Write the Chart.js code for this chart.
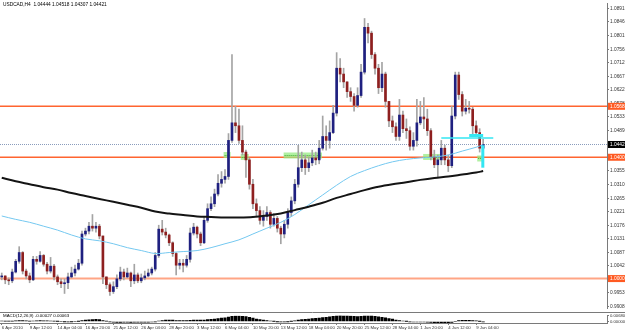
<!DOCTYPE html>
<html><head><meta charset="utf-8">
<script src="https://cdn.jsdelivr.net/npm/chart.js@4.4.0/dist/chart.umd.min.js"></script>
<style>
html,body{margin:0;padding:0;background:#fff;}
#wrap{position:relative;width:625px;height:330px;overflow:hidden;background:#fff;}
.box{position:absolute;left:0;}
</style></head><body>
<div id="wrap">
<div class="box" style="top:0;width:625px;height:312px"><canvas id="main" width="625" height="312"></canvas></div>
<div class="box" style="top:312px;width:625px;height:18px"><canvas id="sub" width="625" height="18"></canvas></div>
</div>
<script>
// ---------------- DATA ----------------
const symbolTitle = "USDCAD,H4  1.04444 1.04518 1.04307 1.04421";
const macdTitle = "MACD(12,26,9) -0.00027 0.00063";
const xTickLabels = ["6 Apr 2010","9 Apr 12:00","14 Apr 04:00","16 Apr 20:00","21 Apr 12:00","26 Apr 04:00","28 Apr 20:00","3 May 12:00","6 May 04:00","10 May 20:00","13 May 12:00","18 May 04:00","20 May 20:00","25 May 12:00","28 May 04:00","1 Jun 20:00","4 Jun 12:00","9 Jun 04:00"];
const yTickValues = [0.99080,0.99530,0.99970,1.00420,1.00870,1.01310,1.01760,1.02210,1.02650,1.03100,1.03550,1.03990,1.04440,1.04890,1.05330,1.05780,1.06220,1.06670,1.07120,1.07560,1.08010,1.08460,1.08910];
const macdTickValues = [0.0068, 0];

const firstOpen = 1.00055;
const closes = [1.00088,0.99959,0.99927,1.00216,1.0057,1.00859,1.00248,1.00088,0.99959,1.00634,
1.0057,1.00763,1.00473,1.00248,1.00409,1.00055,0.99895,0.9983,0.99863,1.00055,
1.00184,1.00313,1.00506,1.0147,1.01566,1.01727,1.01662,1.01727,1.01405,1.00055,
0.99798,0.99573,0.99734,0.99991,1.00216,1.00055,1.00184,0.99927,1.0012,0.99927,
1.00023,1.00088,1.00184,1.00313,1.00763,1.0163,1.01534,1.01437,1.0118,1.00827,
1.00441,1.00506,1.00441,1.00634,1.01502,1.01695,1.0147,1.0118,1.0192,1.02305,
1.02466,1.02788,1.03142,1.0327,1.03367,1.04556,1.05135,1.05038,1.04556,1.04171,
1.03913,1.0311,1.02466,1.02241,1.0192,1.02048,1.02177,1.01791,1.01984,1.01662,
1.0147,1.01791,1.02177,1.02563,1.0311,1.03656,1.03913,1.03656,1.03817,1.03978,
1.03913,1.04299,1.04685,1.04556,1.04813,1.05456,1.06936,1.06743,1.06485,1.06164,
1.06003,1.05713,1.06035,1.06807,1.08285,1.08092,1.07386,1.06936,1.06293,1.06743,
1.05842,1.05199,1.05006,1.04685,1.05392,1.04942,1.04877,1.04363,1.04556,1.05135,
1.05328,1.05263,1.04877,1.0401,1.03753,1.03913,1.04299,1.03913,1.03721,1.0536,
1.06711,1.06068,1.0552,1.05617,1.05585,1.05038,1.04813,1.04299,1.04421];
const highs = [1.00184,1.00088,1.00023,1.00313,1.00634,1.01052,1.00891,1.00313,1.00184,1.00731,
1.00731,1.00891,1.00795,1.00538,1.00698,1.00473,1.0012,0.99991,0.99991,1.00184,
1.00377,1.00441,1.00634,1.01566,1.01662,1.01855,1.02113,1.01855,1.01791,1.01405,
0.99959,0.99863,0.99895,1.0012,1.00377,1.00313,1.00345,1.00216,1.00473,1.00184,
1.00152,1.00248,1.00313,1.00377,1.00859,1.01759,1.0192,1.01662,1.0147,1.01212,
1.00859,1.00634,1.00634,1.00763,1.01662,1.01823,1.01727,1.01534,1.02048,1.02466,
1.02692,1.02949,1.03431,1.03528,1.03592,1.04781,1.07386,1.05681,1.05585,1.05038,
1.04235,1.03978,1.0327,1.02627,1.0237,1.02241,1.0237,1.02241,1.02145,1.02048,
1.01727,1.0192,1.02305,1.02692,1.0327,1.04395,1.04171,1.04074,1.0401,1.04235,
1.04171,1.04556,1.0536,1.05038,1.05199,1.05713,1.0745,1.07257,1.06936,1.06485,
1.06293,1.061,1.06293,1.07064,1.08575,1.08414,1.08157,1.0745,1.07064,1.07129,
1.06807,1.05842,1.0536,1.05135,1.05907,1.0552,1.05263,1.05006,1.04813,1.05907,
1.05842,1.05971,1.05585,1.04942,1.04235,1.04074,1.04556,1.04395,1.04074,1.05681,
1.06807,1.06807,1.06164,1.05907,1.05842,1.05649,1.05199,1.04942,1.04588];
const lows = [0.99959,0.9983,0.99798,0.99863,1.00184,1.00506,1.00152,0.99991,0.99863,0.99927,
1.00473,1.00538,1.00409,1.00152,1.00184,0.99959,0.99798,0.99702,0.99509,0.9967,
1.00023,1.00088,1.00281,1.00441,1.01405,1.0147,1.01566,1.01534,1.01309,0.9983,
0.9967,0.99445,0.99509,0.9967,0.99927,0.99959,1.00023,0.99734,0.9983,0.99863,
0.99863,0.99959,1.00055,1.0012,1.00248,1.00698,1.01437,1.01341,1.01084,1.00731,
1.0012,1.00313,1.00216,1.00377,1.00538,1.01437,1.01341,1.01084,1.01148,1.01855,
1.02241,1.0237,1.02724,1.03013,1.03142,1.0327,1.04492,1.04813,1.0446,1.04074,
1.03335,1.02949,1.02305,1.02048,1.01791,1.01727,1.0192,1.01662,1.01727,1.01534,
1.01148,1.01341,1.01662,1.02048,1.02466,1.03013,1.03528,1.03431,1.03528,1.03721,
1.03753,1.03785,1.04235,1.04235,1.04299,1.04781,1.0536,1.06485,1.06293,1.05971,
1.05842,1.0552,1.05649,1.05971,1.06743,1.07771,1.07257,1.06743,1.061,1.06164,
1.05649,1.05006,1.04813,1.04556,1.04556,1.04813,1.0462,1.04235,1.04235,1.04363,
1.0507,1.04942,1.04717,1.03913,1.03656,1.03335,1.03753,1.03753,1.03528,1.03656,
1.05263,1.05907,1.0536,1.05424,1.05456,1.04717,1.04685,1.04171,1.04139];

const maIdx = [0,4,8,12,16,20,24,28,32,36,40,44,48,52,56,60,64,68,72,76,80,84,88,92,96,100,104,108,112,116,120,124,128,132,136,138];
const maSlow = [1.03322,1.03206,1.0311,1.03013,1.02933,1.0282,1.02724,1.02627,1.02531,1.02434,1.02338,1.02209,1.02145,1.02097,1.02048,1.02032,1.02016,1.02016,1.02032,1.0208,1.02145,1.02257,1.0237,1.02498,1.0266,1.02788,1.02917,1.03029,1.0311,1.03174,1.03254,1.03319,1.03367,1.03431,1.03496,1.03544];
const maFast = [1.02064,1.01952,1.01855,1.01727,1.01598,1.01437,1.01309,1.01245,1.01148,1.0102,1.00924,1.00827,1.00859,1.00891,1.00924,1.0102,1.01148,1.01277,1.0147,1.01662,1.01855,1.02113,1.02434,1.02756,1.03078,1.03367,1.0356,1.03721,1.03849,1.0393,1.03978,1.0401,1.04074,1.04203,1.04331,1.04411];

const macdHist = [0.0006,0.0005,0.0003,0.0004,0.0008,0.0012,0.0010,0.0008,0.0005,0.0006,0.0008,0.0010,0.0009,0.0007,0.0006,0.0004,0.0002,0.0000,
-0.0002,-0.0003,-0.0002,0.0000,0.0002,
0.0010,0.0016,0.0020,0.0024,0.0025,0.0022,0.0012,0.0004,
-0.0004,-0.0008,-0.0010,-0.0010,-0.0009,-0.0009,-0.0010,-0.0009,-0.0009,-0.0008,-0.0008,-0.0007,-0.0006,-0.0004,
0.0006,0.0012,0.0016,0.0017,0.0016,0.0012,0.0010,0.0010,0.0010,0.0014,0.0018,0.0018,0.0016,
0.0018,0.0022,0.0026,0.0030,0.0036,0.0040,0.0044,0.0052,0.0060,0.0064,0.0064,0.0062,0.0058,
0.0050,0.0040,0.0030,0.0022,0.0016,0.0010,0.0006,0.0002,-0.0002,-0.0004,-0.0004,-0.0002,0.0002,0.0008,
0.0016,0.0022,0.0026,0.0030,0.0034,0.0038,0.0042,0.0046,0.0050,0.0054,0.0062,0.0068,0.0070,0.0068,0.0066,0.0064,0.0060,0.0058,0.0060,0.0066,
0.0068,0.0066,0.0062,0.0056,0.0050,0.0044,0.0036,0.0028,
0.0018,0.0012,0.0006,0.0002,-0.0004,-0.0006,-0.0006,-0.0006,-0.0006,-0.0008,-0.0012,-0.0016,-0.0016,-0.0016,-0.0016,-0.0016,
-0.0010,0.0000,0.0010,0.0014,0.0014,0.0014,0.0012,0.0008,0.0002,-0.0004];

const levels = [1.05680, 1.04000, 1.00000];
const lastPrice = 1.04421;
const greenZones = [[63.6,65.6,1.04074],[68.5,70.8,1.0401],[80.8,91.8,1.04058],[120.8,126,1.0401],[136.3,137.7,1.0396]];
const cyanLines = [[126,140.9,1.04636],[134,138,1.04717]];
const cyanBar = [137.9,1.04395,1.03656];

// ---------------- CHART ----------------
const SLOTS = 174;
const FONT = 'Liberation Sans, Arial, sans-serif';
const opens = closes.map((c,i)=> i===0 ? firstOpen : closes[i-1]);
const bodyData = closes.map((c,i)=>({x:i, y:[opens[i], c]}));
const wickData = closes.map((c,i)=>({x:i, y:[Math.min(lows[i],opens[i],c), Math.max(highs[i],opens[i],c)]}));
const bodyColors = closes.map((c,i)=> c>=opens[i] ? '#1f2080' : '#8e1f1f');
const slowData = maIdx.map((k,j)=>({x:k, y:maSlow[j]}));
const fastData = maIdx.map((k,j)=>({x:k, y:maFast[j]}));

const mainPlugin = {
  id:'mainOverlay',
  beforeDatasetsDraw(chart){
    const {ctx, chartArea:a, scales:{x,y}} = chart;
    ctx.save();
    const pp = Math.round(y.getPixelForValue(lastPrice))+0.5;
    ctx.setLineDash([1,1]); ctx.strokeStyle='#8a9cbc'; ctx.lineWidth=1;
    ctx.beginPath(); ctx.moveTo(a.left,pp); ctx.lineTo(a.right,pp); ctx.stroke();
    ctx.setLineDash([]);
    levels.forEach((v,k)=>{
      const py = y.getPixelForValue(v);
      ctx.strokeStyle = k===2 ? '#ffa585' : '#ff6430';
      ctx.lineWidth = k===2 ? 2 : 1.5;
      ctx.beginPath(); ctx.moveTo(a.left,py); ctx.lineTo(a.right,py); ctx.stroke();
    });
    greenZones.forEach(z=>{
      const x0=x.getPixelForValue(z[0]), x1=x.getPixelForValue(z[1]);
      const yc=y.getPixelForValue(z[2]);
      ctx.fillStyle='rgba(150,235,130,0.75)';
      ctx.fillRect(x0, yc-3, x1-x0, 6);
      ctx.setLineDash([1,1]); ctx.strokeStyle='#3fae2f'; ctx.lineWidth=1;
      ctx.beginPath(); ctx.moveTo(x0+1,Math.round(yc)+0.5); ctx.lineTo(x1-1,Math.round(yc)+0.5); ctx.stroke();
      ctx.setLineDash([]);
    });
    ctx.restore();
  },
  afterDatasetsDraw(chart){
    const {ctx, scales:{x,y}} = chart;
    ctx.save();
    ctx.strokeStyle='#33e6f2';
    cyanLines.forEach((c,k)=>{
      const py=y.getPixelForValue(c[2]);
      ctx.lineWidth = k===0 ? 1.5 : 3;
      ctx.beginPath(); ctx.moveTo(x.getPixelForValue(c[0]),py); ctx.lineTo(x.getPixelForValue(c[1]),py); ctx.stroke();
    });
    ctx.lineWidth=3;
    const bx=x.getPixelForValue(cyanBar[0]);
    ctx.beginPath(); ctx.moveTo(bx,y.getPixelForValue(cyanBar[1])); ctx.lineTo(bx,y.getPixelForValue(cyanBar[2])); ctx.stroke();
    ctx.restore();
  },
  afterDraw(chart){
    const {ctx, chartArea:a, scales:{y}} = chart;
    ctx.save();
    ctx.font = '4.8px '+FONT; ctx.textBaseline='middle'; ctx.textAlign='left';
    const tag=(v,bg,fg)=>{
      const py=y.getPixelForValue(v);
      ctx.fillStyle=bg; ctx.fillRect(a.right+1, py-3.5, 20, 7);
      ctx.fillStyle=fg; ctx.fillText(v.toFixed(5), a.right+3, py+0.3);
    };
    tag(levels[0],'#ff5a22','#ffffff');
    tag(levels[1],'#ff5a22','#ffffff');
    tag(levels[2],'#ff5a22','#ffffff');
    tag(lastPrice,'#000000','#ffffff');
    ctx.fillStyle='#000'; ctx.font='4.8px '+FONT; ctx.textBaseline='top';
    ctx.fillText(symbolTitle, 3, 2.5);
    ctx.restore();
  }
};

new Chart(document.getElementById('main'), {
  type:'bar',
  data:{datasets:[
    {type:'line', data:slowData, borderColor:'#141414', borderWidth:2, pointRadius:0, tension:0.35, order:0},
    {type:'line', data:fastData, borderColor:'#74c8f0', borderWidth:1, pointRadius:0, tension:0.35, order:0},
    {type:'bar', data:bodyData, backgroundColor:bodyColors, barThickness:2, grouped:false, minBarLength:1, order:1},
    {type:'bar', data:wickData, backgroundColor:'#a4a4a4', barThickness:1, grouped:false, order:2}
  ]},
  options:{
    responsive:false, animation:false,
    layout:{padding:0, autoPadding:false},
    plugins:{legend:{display:false}, tooltip:{enabled:false}},
    scales:{
      x:{type:'linear', min:-0.5, max:SLOTS-0.5, offset:false, display:false},
      y:{position:'right', min:0.99026, max:1.09057,
         afterFit:s=>{s.width=18;},
         afterBuildTicks:s=>{s.ticks=yTickValues.map(v=>({value:v}));},
         ticks:{autoSkip:false, padding:1, color:'#333', font:{size:4.8, family:FONT}, callback:v=>Number(v).toFixed(5)},
         grid:{drawOnChartArea:false, tickLength:2, color:'#7a7a7a'},
         border:{display:true, color:'#7a7a7a'}
      }
    }
  },
  plugins:[mainPlugin]
});

const subPlugin = {
  id:'subOverlay',
  afterDraw(chart){
    const {ctx} = chart;
    ctx.save();
    ctx.strokeStyle='#7a7a7a'; ctx.lineWidth=1;
    ctx.beginPath(); ctx.moveTo(0,0.5); ctx.lineTo(625,0.5); ctx.stroke();
    ctx.fillStyle='#000'; ctx.font='4.4px '+FONT; ctx.textBaseline='top';
    ctx.fillText(macdTitle, 3, 1.5);
    ctx.restore();
  }
};

new Chart(document.getElementById('sub'), {
  type:'bar',
  data:{datasets:[{data:macdHist.map((v,i)=>({x:i,y:v})), backgroundColor:'#000', barThickness:2.5}]},
  options:{
    responsive:false, animation:false,
    layout:{padding:0, autoPadding:false},
    plugins:{legend:{display:false}, tooltip:{enabled:false}},
    scales:{
      x:{type:'linear', min:-0.5, max:SLOTS-0.5, offset:false,
         afterFit:s=>{s.height=7;},
         afterBuildTicks:s=>{s.ticks=xTickLabels.map((_,k)=>({value:k*8}));},
         ticks:{autoSkip:false, maxRotation:0, minRotation:0, align:'start', padding:0, color:'#333', font:{size:4.3, family:FONT}, callback:(v,i)=>xTickLabels[i]},
         grid:{drawOnChartArea:false, tickLength:2, color:'#7a7a7a', offset:false},
         border:{display:true, color:'#7a7a7a'}
      },
      y:{position:'right', min:-0.0018, max:0.0071,
         afterFit:s=>{s.width=18;},
         afterBuildTicks:s=>{s.ticks=macdTickValues.map(v=>({value:v}));},
         ticks:{autoSkip:false, padding:1, color:'#333', font:{size:4.2, family:FONT}, callback:v=>Number(v).toFixed(5)},
         grid:{drawOnChartArea:false, tickLength:2, color:'#7a7a7a'},
         border:{display:true, color:'#7a7a7a'}
      }
    }
  },
  plugins:[subPlugin]
});
</script>
</body></html>
